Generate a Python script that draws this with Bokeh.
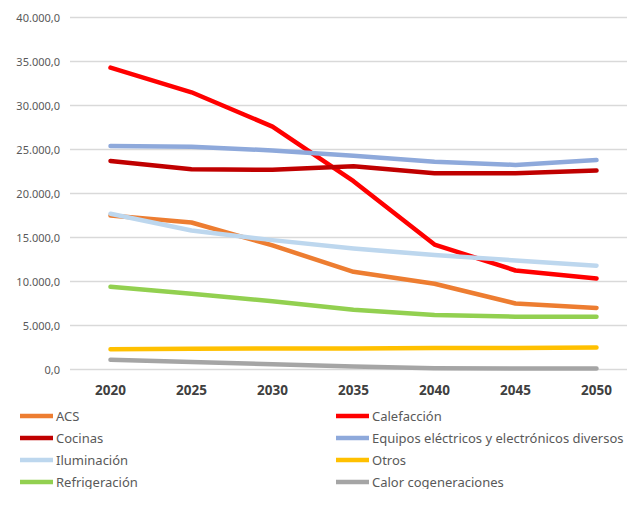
from bokeh.plotting import figure
from bokeh.models import Legend, LegendItem, FixedTicker, Range1d
from bokeh.embed import file_html
from bokeh.resources import INLINE

years = [2020, 2025, 2030, 2035, 2040, 2045, 2050]

acs = [17500, 16700, 14100, 11100, 9750, 7500, 7000]
calefaccion = [34300, 31500, 27600, 21400, 14200, 11250, 10350]
cocinas = [23700, 22750, 22700, 23100, 22300, 22300, 22600]
equipos = [25400, 25300, 24900, 24300, 23600, 23250, 23800]
iluminacion = [17700, 15800, 14700, 13750, 13000, 12400, 11800]
otros = [2300, 2350, 2400, 2400, 2450, 2450, 2500]
refrigeracion = [9400, 8600, 7750, 6800, 6200, 6000, 6000]
calor_cog = [1100, 850, 600, 350, 150, 100, 100]

series_names = ["ACS", "Calefacción", "Cocinas",
                "Equipos eléctricos y electrónicos diversos",
                "Iluminación", "Otros", "Refrigeración", "Calor cogeneraciones"]
series_values = [acs, calefaccion, cocinas, equipos, iluminacion, otros,
                 refrigeracion, calor_cog]
series_colors = ["#ED7D31", "#FF0000", "#C00000", "#8EA9DB",
                 "#BDD7EE", "#FFC000", "#92D050", "#A5A5A5"]

y_ticks = [0, 5000, 10000, 15000, 20000, 25000, 30000, 35000, 40000]
y_tick_labels = ["0,0", "5.000,0", "10.000,0", "15.000,0", "20.000,0",
                 "25.000,0", "30.000,0", "35.000,0", "40.000,0"]

FONT = "Noto Sans"
W, H = 627, 489

# ---- layout (pixels) -> ranges, so the whole figure is one frame ----
step = years[1] - years[0]
first_px, last_px = 110.0, 596.0          # centres of first / last category
x_scale = (last_px - first_px) / (years[-1] - years[0])
x_start = years[0] - first_px / x_scale
x_end = years[0] + (W - first_px) / x_scale
grid_left = years[0] - step / 2.0          # left edge of the category band
grid_right = years[-1] + step / 2.0

top_px, zero_px = 17.0, 369.0             # pixel rows of max tick and zero
y_scale = (zero_px - top_px) / (y_ticks[-1] - y_ticks[0])
y_end = y_ticks[-1] + top_px / y_scale
y_start = y_ticks[0] - (H - zero_px) / y_scale

p = figure(width=W, height=H, output_backend="svg", toolbar_location=None,
           x_range=Range1d(x_start, x_end), y_range=Range1d(y_start, y_end),
           min_border_left=0, min_border_right=0, min_border_top=0,
           min_border_bottom=0)
p.outline_line_color = None
p.background_fill_color = "white"
p.xgrid.grid_line_color = None
p.ygrid.grid_line_color = None

# gridlines spanning the category area only
p.segment(x0=[grid_left] * len(y_ticks), x1=[grid_right] * len(y_ticks),
          y0=y_ticks, y1=y_ticks, line_color="#D9D9D9", line_width=1.5)

# y axis
p.yaxis.fixed_location = grid_left
p.yaxis.ticker = FixedTicker(ticks=y_ticks)
p.yaxis.major_label_overrides = {t: l for t, l in zip(y_ticks, y_tick_labels)}
p.yaxis.axis_line_color = None
p.yaxis.major_tick_line_color = None
p.yaxis.minor_tick_line_color = None
p.yaxis.major_label_standoff = 4
p.yaxis.major_label_text_font = FONT
p.yaxis.major_label_text_font_size = "11px"
p.yaxis.major_label_text_color = "#595959"

# x axis
p.xaxis.fixed_location = 0
p.xaxis.ticker = FixedTicker(ticks=years)
p.xaxis.major_label_overrides = {y: str(y) for y in years}
p.xaxis.axis_line_color = None
p.xaxis.major_tick_line_color = None
p.xaxis.minor_tick_line_color = None
p.xaxis.major_label_standoff = 9
p.xaxis.major_label_text_font = FONT
p.xaxis.major_label_text_font_size = "13.5px"
p.xaxis.major_label_text_font_style = "bold"
p.xaxis.major_label_text_color = "#404040"

rends = {}
for name, vals, col in zip(series_names, series_values, series_colors):
    rends[name] = p.line(x=years, y=vals, line_color=col, line_width=4.5,
                         line_join="round", line_cap="round")

# legend: two columns, filled column by column
order = [0, 2, 4, 6, 1, 3, 5, 7]
items = [LegendItem(label=series_names[i], renderers=[rends[series_names[i]]])
         for i in order]

legend = Legend(items=items, ncols=2, location=(20, -2),
                padding=0, margin=0, spacing=3,
                glyph_width=33, glyph_height=19, label_height=19,
                label_width=277, label_standoff=3,
                label_text_font=FONT, label_text_font_size="13px",
                label_text_color="#595959",
                border_line_color=None, background_fill_alpha=0)
p.add_layout(legend, "center")

open("out.html", "w").write(file_html(p, INLINE))
